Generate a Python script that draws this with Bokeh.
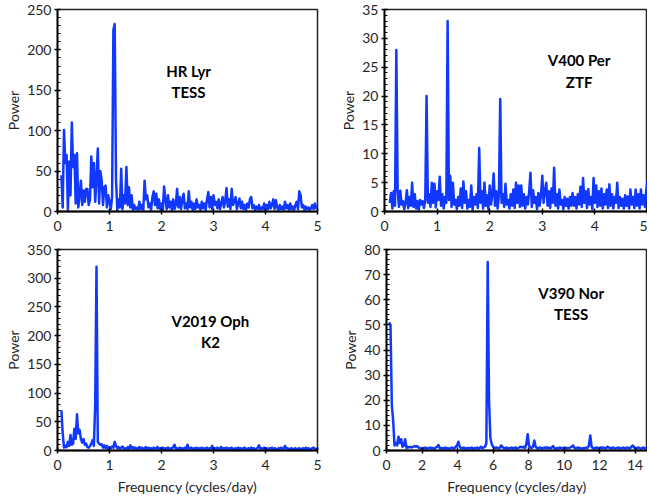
from bokeh.plotting import figure
from bokeh.layouts import row, column
from bokeh.models import Range1d, SingleIntervalTicker
from bokeh.core.properties import value
from bokeh.embed import file_html
from bokeh.resources import INLINE

# ---------------- data ----------------
# HR Lyr (TESS): frequency grid starts 0.075, step 0.025
hr_f0, hr_df = 0.075, 0.025
hr_power = [
    45, 5, 101, 60, 70, 2, 62, 20, 110, 55, 70, 10, 72, 5, 20, 38, 8, 26, 12, 28,
    28, 8, 15, 68, 30, 60, 12, 40, 78, 10, 50, 38, 8, 30, 32, 5, 20, 12, 3, 18,
    225, 232, 40, 2, 15, 5, 53, 3, 20, 10, 55, 8, 30, 5, 20, 2, 8, 3, 5, 2,
    12, 3, 8, 2, 38, 15, 20, 5, 10, 2, 18, 25, 8, 22, 4, 15, 3, 10, 2, 31,
    15, 3, 20, 5, 12, 2, 15, 3, 8, 28, 5, 18, 3, 15, 22, 4, 10, 3, 25, 5,
    12, 2, 10, 3, 15, 5, 8, 2, 12, 4, 10, 2, 15, 24, 5, 18, 3, 20, 8, 12,
    4, 15, 3, 10, 18, 5, 12, 29, 6, 15, 3, 28, 8, 12, 18, 3, 10, 16, 4, 12,
    3, 8, 2, 10, 5, 15, 18, 4, 8, 2, 6, 3, 8, 2, 5, 3, 10, 2, 8, 3,
    12, 4, 8, 15, 3, 14, 5, 2, 8, 3, 6, 2, 12, 4, 8, 2, 10, 3, 6, 2,
    8, 12, 3, 25, 20, 5, 8, 2, 6, 3, 5, 2, 4, 8, 3, 10, 4, 5,
]

# V400 Per (ZTF): frequency grid starts 0.1, step 0.025
v400_f0, v400_df = 0.1, 0.025
v400_power = [
    1.5, 3.2, 0.5, 3.5, 1.0, 28.0, 3.8, 0.8, 3.6, 1.2, 1.8, 0.4, 1.5, 3.7, 0.6, 2.5, 1.0, 5.0, 0.8, 3.0,
    0.5, 1.8, 0.3, 2.0, 1.2, 1.8, 0.6, 2.0, 20.0, 1.5, 3.0, 0.8, 5.0, 1.5, 4.8, 0.7, 3.5, 2.0, 6.0, 1.0,
    3.0, 0.5, 2.5, 1.5, 33.0, 2.0, 6.2, 0.8, 5.0, 1.2, 2.0, 0.4, 2.5, 1.0, 4.0, 0.6, 5.2, 1.5, 3.5, 0.5,
    2.0, 0.8, 4.5, 0.3, 2.5, 1.2, 3.0, 0.6, 11.0, 1.5, 3.5, 0.5, 5.0, 1.0, 2.8, 0.4, 4.5, 1.2, 3.0, 6.6,
    1.0, 3.5, 0.5, 2.8, 19.5, 1.5, 3.0, 0.8, 4.8, 1.2, 2.0, 0.5, 3.0, 1.0, 3.8, 0.6, 5.0, 1.5, 4.5, 0.8,
    4.5, 1.0, 3.0, 0.5, 2.5, 1.2, 3.5, 6.7, 0.8, 3.7, 1.5, 2.5, 0.4, 3.2, 1.0, 2.8, 6.2, 1.5, 3.5, 5.0,
    1.0, 3.5, 0.6, 4.0, 1.5, 7.6, 1.0, 3.0, 0.5, 3.8, 1.2, 2.0, 0.4, 2.5, 1.0, 2.2, 0.5, 2.5, 1.0, 3.2,
    1.0, 2.5, 0.5, 3.0, 1.2, 4.3, 0.8, 5.8, 1.5, 3.5, 0.6, 3.9, 1.2, 2.5, 0.4, 5.8, 1.5, 4.5, 0.8, 3.5,
    1.0, 4.0, 0.5, 3.0, 1.2, 3.8, 0.6, 4.7, 1.0, 3.0, 0.5, 2.5, 1.5, 5.0, 0.6, 2.5, 1.0, 2.2, 0.5, 2.8,
    1.0, 2.6, 0.5, 3.8, 1.2, 2.5, 0.6, 3.8, 1.0, 3.0, 0.5, 3.8, 1.2, 2.8, 0.8, 3.5, 5.3,
]

# V2019 Oph (K2): frequency grid starts 0.075, step 0.025
v2019_f0, v2019_df = 0.075, 0.025
v2019_power = [
    70, 30, 5, 8, 6, 15, 8, 27, 10, 12, 38, 20, 63, 30, 36, 20, 14, 20, 10, 12,
    6, 5, 8, 12, 18, 8, 80, 320, 15, 12, 10, 11, 5, 9, 4, 8, 3, 6, 4, 7,
    5, 15, 8, 4, 6, 3, 5, 7, 3, 4, 2, 6, 3, 9, 4, 6, 3, 5, 2, 4,
    6, 3, 5, 2, 4, 6, 2, 5, 3, 4, 2, 5, 3, 4, 6, 2, 4, 3, 5, 2,
    4, 3, 5, 2, 4, 3, 6, 10, 3, 4, 2, 5, 3, 4, 2, 5, 3, 10, 4, 3,
    5, 2, 4, 3, 5, 2, 4, 3, 5, 2, 4, 3, 5, 2, 4, 3, 8, 2, 4, 3,
    5, 2, 4, 6, 2, 4, 3, 5, 2, 4, 3, 5, 2, 3, 4, 2, 5, 3, 4, 2,
    4, 5, 2, 3, 4, 2, 5, 3, 4, 2, 3, 5, 9, 3, 4, 2, 5, 3, 4, 2,
    4, 3, 5, 2, 4, 3, 2, 4, 3, 5, 2, 4, 8, 3, 4, 2, 3, 4, 2, 3,
    4, 2, 3, 4, 2, 3, 4, 2, 5, 3, 4, 2, 3, 4, 5, 3, 2, 4,
]

# V390 Nor (TESS): frequency grid starts 0.15, step 0.075
v390_f0, v390_df = 0.15, 0.075
v390_power = [
    51, 50, 18, 12, 2, 3, 2, 5.5, 3, 4.5, 1.5, 2, 4.5, 1, 1.5, 1.2, 1.5, 1.2, 1.5, 1.8,
    1.5, 1.8, 1.2, 1.0, 0.6, 1.0, 0.8, 1.2, 0.7, 1.0, 0.9, 1.2, 0.8, 1.0, 0.6, 1.2, 1.5, 2.2, 1.0, 0.8,
    1.0, 0.7, 1.2, 0.8, 1.0, 0.6, 0.9, 1.2, 0.8, 1.0, 1.5, 2.0, 3.5, 1.5, 1.0, 0.8, 1.2, 0.7, 1.0, 0.8,
    1.0, 0.8, 1.2, 0.6, 1.0, 0.9, 1.2, 0.8, 1.0, 1.5, 1.0, 1.2, 1.5, 3.0, 75, 20, 5.0, 2.5, 1.5, 1.2,
    1.0, 1.2, 0.8, 1.0, 2.0, 1.5, 1.0, 0.8, 1.2, 0.7, 1.0, 0.9, 1.2, 0.8, 1.0, 1.2, 0.7, 1.0, 1.3, 1.5,
    1.2, 1.5, 1.0, 2.5, 6.5, 2.0, 1.2, 1.0, 1.5, 4.0, 1.5, 1.0, 0.8, 1.2, 1.0, 0.8, 1.0, 1.2, 1.0, 1.2,
    1.0, 0.8, 1.2, 1.8, 1.0, 0.7, 1.0, 0.8, 1.2, 1.0, 0.8, 1.0, 1.2, 0.8, 1.0, 0.9, 1.2, 1.5, 2.0, 1.2,
    0.8, 1.0, 1.2, 0.8, 1.0, 0.7, 1.0, 0.9, 1.2, 1.0, 2.0, 6.0, 1.5, 1.0, 0.8, 1.0, 1.2, 0.8, 1.0, 1.2,
    1.0, 1.2, 0.8, 1.0, 1.5, 1.2, 1.0, 0.8, 1.2, 1.0, 0.7, 1.0, 1.2, 0.8, 1.0, 0.9, 1.2, 0.8, 1.0, 1.2,
    0.8, 1.0, 1.5, 2.0, 1.2, 1.0, 0.8, 1.2, 1.0, 0.7, 1.0, 1.2, 0.8, 1.0, 1.2, 0.9, 1.0, 1.2, 1.0,
]

panels = [
    dict(name=["HR Lyr", "TESS"], f0=hr_f0, df=hr_df, power=hr_power, xmax=5, xstep=1,
         ymax=250, ystep=50, lab_x=2.52, lab_y=[174, 148]),
    dict(name=["V400 Per", "ZTF"], f0=v400_f0, df=v400_df, power=v400_power, xmax=5, xstep=1,
         ymax=35, ystep=5, lab_x=3.7, lab_y=[26.3, 22.5]),
    dict(name=["V2019 Oph", "K2"], f0=v2019_f0, df=v2019_df, power=v2019_power, xmax=5, xstep=1,
         ymax=350, ystep=50, lab_x=2.94, lab_y=[225, 189]),
    dict(name=["V390 Nor", "TESS"], f0=v390_f0, df=v390_df, power=v390_power, xmax=14.7, xstep=2,
         ymax=80, ystep=10, lab_x=10.4, lab_y=[62.8, 54.4]),
]

BLUE = "#1038ff"
FONT = "Lato"
TXT = "#262626"


def make(i, d):
    left = (i % 2 == 0)
    top = (i < 2)
    w = 325 if left else 322
    h = 240 if top else 258
    if left:
        mbl = 57
    else:
        mbl = 59 if top else 61
    p = figure(width=w, height=h, output_backend="svg", toolbar_location=None,
               x_range=Range1d(0, d["xmax"]), y_range=Range1d(0, d["ymax"]),
               min_border_left=mbl, min_border_right=8 if left else 0,
               min_border_top=9, min_border_bottom=29 if top else 48)
    p.background_fill_color = "white"
    p.border_fill_color = "white"
    p.outline_line_color = "#222222"
    p.outline_line_width = 1.5
    p.xgrid.visible = False
    p.ygrid.visible = False

    xs = [d["f0"] + d["df"] * k for k in range(len(d["power"]))]
    p.line(xs, d["power"], line_color=BLUE, line_width=2.5, line_join="round")

    p.text(x=[d["lab_x"], d["lab_x"]], y=d["lab_y"], text=d["name"],
           text_font=value(FONT), text_font_size="15px", text_font_style="bold",
           text_align="center", text_baseline="middle", text_color="black")

    p.xaxis.ticker = SingleIntervalTicker(interval=d["xstep"], num_minor_ticks=0)
    p.yaxis.ticker = SingleIntervalTicker(interval=d["ystep"], num_minor_ticks=5)
    for ax in (p.xaxis, p.yaxis):
        ax.axis_line_color = "black"
        ax.axis_line_width = 1.8
        ax.major_tick_line_color = "black"
        ax.major_tick_line_width = 1.5
        ax.major_tick_in = 3
        ax.major_tick_out = 3
        ax.major_label_text_font = FONT
        ax.major_label_text_font_size = "14px"
        ax.major_label_text_color = TXT
        ax.axis_label_text_font = FONT
        ax.axis_label_text_font_size = "14px"
        ax.axis_label_text_font_style = "normal"
        ax.axis_label_text_color = TXT
    p.xaxis.major_label_standoff = 6
    p.xaxis.axis_label_standoff = 5
    p.yaxis.major_label_standoff = 3
    p.yaxis.axis_label_standoff = 2
    p.xaxis.minor_tick_line_color = None
    p.yaxis.minor_tick_line_color = "black"
    p.yaxis.minor_tick_in = 3
    p.yaxis.minor_tick_out = 0
    p.yaxis.axis_label = "Power"
    if not top:
        p.xaxis.axis_label = "Frequency (cycles/day)"
    return p


figs = [make(i, d) for i, d in enumerate(panels)]
layout = column(row(figs[0], figs[1]), row(figs[2], figs[3]))

open("out.html", "w").write(file_html(layout, INLINE))
